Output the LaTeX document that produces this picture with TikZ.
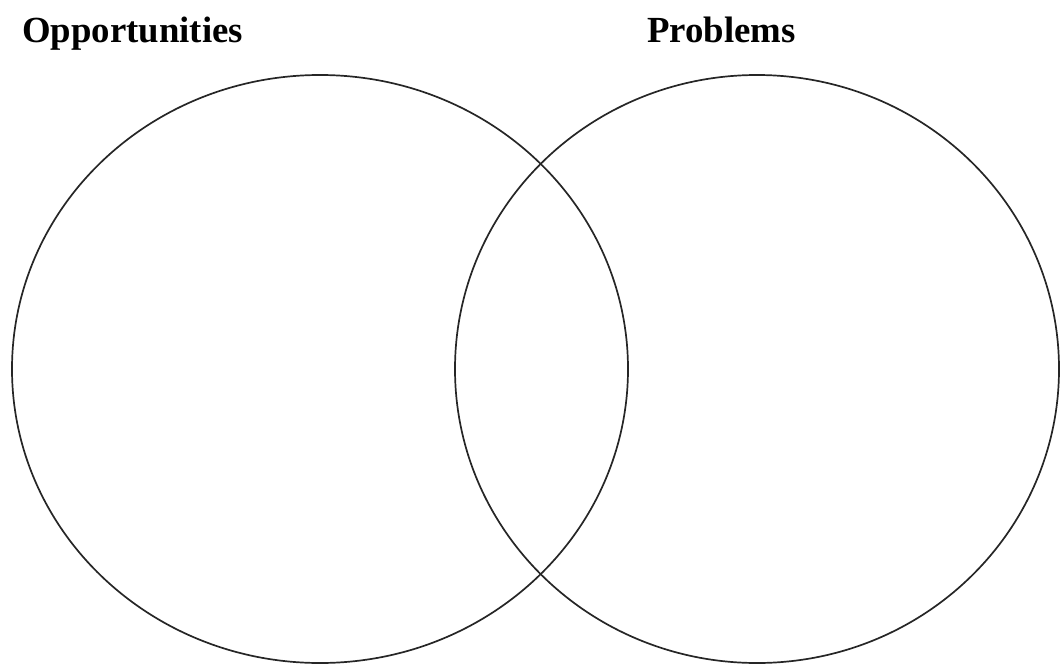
\documentclass[tikz,border=0pt]{standalone}
\usepackage{fontspec}
\setmainfont{Liberation Serif}
\begin{document}
\begin{tikzpicture}[x=1pt,y=-1pt,
  ring/.style={draw=black!85,line width=1.7pt},
  title/.style={anchor=base west,inner sep=0pt,font=\fontsize{36.8}{40}\selectfont\bfseries}]
\useasboundingbox (0,0) rectangle (1060,664);
\draw[ring] (320,369) ellipse [x radius=308, y radius=294];
\draw[ring] (757,369) ellipse [x radius=302, y radius=294];
\node[title] (opp) at (22,42) {Opportunities};
\node[title] (prob) at (647,42) {Problems};
\end{tikzpicture}
\end{document}
